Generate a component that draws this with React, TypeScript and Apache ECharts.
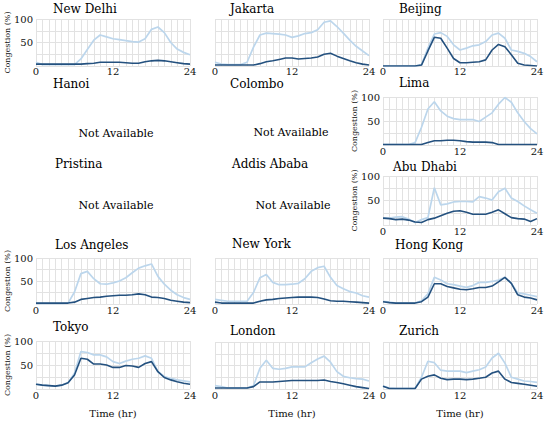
import React, { useEffect, useRef } from "react";
import * as echarts from "echarts";

const hours = [0, 1, 2, 3, 4, 5, 6, 7, 8, 9, 10, 11, 12, 13, 14, 15, 16, 17, 18, 19, 20, 21, 22, 23, 24];
const xTickLabels = [0, 12, 24];
const yTickLabels = [50, 100];

const newDelhiLight = [8, 3, 3, 3, 3, 3, 3, 15, 35, 55, 66, 62, 58, 56, 54, 52, 51, 58, 78, 83, 71, 50, 36, 29, 24];
const newDelhiDark = [4, 4, 4, 4, 4, 4, 4, 4, 5, 6, 8, 8, 8, 8, 7, 6, 6, 9, 11, 12, 11, 9, 7, 5, 4];
const jakartaLight = [8, 4, 3, 3, 3, 8, 40, 66, 70, 69, 68, 66, 61, 64, 69, 71, 77, 93, 96, 84, 70, 55, 42, 32, 22];
const jakartaDark = [2, 2, 2, 2, 2, 2, 2, 5, 9, 11, 14, 17, 17, 15, 16, 17, 19, 25, 27, 21, 16, 11, 7, 4, 2];
const beijingLight = [0, 0, 0, 0, 0, 0, 3, 38, 68, 71, 63, 45, 34, 38, 43, 45, 52, 66, 70, 59, 34, 31, 27, 20, 9];
const beijingDark = [0, 0, 0, 0, 0, 0, 2, 32, 61, 59, 38, 16, 7, 7, 8, 9, 13, 34, 46, 41, 24, 6, 2, 1, 0];
const limaLight = [1, 1, 1, 1, 1, 5, 37, 75, 90, 71, 60, 55, 53, 53, 53, 49, 58, 67, 85, 99, 89, 67, 49, 34, 23];
const limaDark = [1, 1, 1, 1, 1, 1, 1, 5, 9, 9, 10, 10, 9, 7, 6, 6, 6, 5, 1, 1, 1, 1, 1, 1, 1];
const abuDhabiLight = [14, 14, 16, 17, 12, 5, 11, 15, 76, 41, 43, 47, 48, 48, 47, 58, 55, 51, 68, 75, 55, 48, 39, 31, 24];
const abuDhabiDark = [14, 13, 11, 12, 10, 6, 5, 11, 14, 19, 24, 28, 29, 26, 22, 22, 22, 26, 31, 23, 15, 13, 12, 7, 13];
const losAngelesLight = [1, 1, 1, 1, 1, 2, 26, 66, 71, 55, 44, 43, 46, 50, 57, 68, 78, 83, 87, 60, 43, 30, 20, 14, 10];
const losAngelesDark = [2, 2, 2, 2, 2, 2, 4, 10, 12, 14, 15, 17, 18, 19, 19, 20, 22, 20, 15, 14, 12, 8, 6, 4, 3];
const newYorkLight = [10, 8, 6, 6, 6, 6, 25, 57, 64, 47, 42, 42, 43, 45, 55, 71, 79, 82, 58, 40, 33, 27, 24, 18, 15];
const newYorkDark = [4, 2, 2, 2, 2, 2, 2, 6, 9, 10, 12, 13, 14, 15, 15, 15, 14, 11, 7, 6, 6, 5, 4, 3, 2];
const hongKongLight = [6, 4, 2, 2, 2, 2, 7, 22, 58, 52, 44, 42, 39, 36, 40, 47, 47, 49, 52, 58, 45, 24, 22, 19, 16];
const hongKongDark = [5, 3, 2, 2, 2, 2, 5, 15, 44, 44, 38, 35, 32, 31, 33, 36, 36, 39, 48, 58, 45, 20, 15, 13, 9];
const tokyoLight = [10, 8, 7, 6, 8, 13, 33, 78, 76, 71, 71, 67, 57, 53, 58, 62, 64, 69, 64, 36, 26, 22, 19, 17, 15];
const tokyoDark = [10, 8, 7, 6, 8, 13, 29, 64, 62, 52, 52, 50, 45, 45, 49, 48, 45, 53, 57, 36, 24, 19, 15, 12, 10];
const londonLight = [7, 5, 2, 2, 2, 2, 7, 44, 61, 44, 42, 44, 47, 47, 47, 56, 64, 70, 57, 37, 27, 24, 22, 21, 17];
const londonDark = [2, 2, 2, 2, 2, 2, 5, 15, 15, 15, 16, 17, 18, 18, 18, 18, 18, 19, 16, 14, 11, 8, 5, 3, 1];
const zurichLight = [6, 2, 1, 1, 1, 1, 25, 59, 56, 40, 38, 38, 38, 35, 38, 41, 47, 66, 76, 55, 25, 21, 17, 16, 14];
const zurichDark = [6, 1, 1, 1, 1, 1, 21, 27, 30, 23, 20, 21, 21, 20, 21, 23, 25, 34, 38, 21, 14, 12, 10, 8, 6];

const NOT_AVAILABLE = "Not Available";
const Y_NAME = "Congestion (%)";
const X_NAME = "Time (hr)";

const LIGHT = "#bcd6ec";
const DARK = "#24517f";
const FONT = "DejaVu Serif";
const PW = 154;

// layout: plot rectangles, title anchors
const panels = [
  { name: "New Delhi", left: 36, top: 19, height: 47, tx: 53, ty: 8.5, yl: true, lm: 0, light: newDelhiLight, dark: newDelhiDark },
  { name: "Jakarta", left: 215, top: 19, height: 47, tx: 230, ty: 8.5, yl: false, lm: 0, light: jakartaLight, dark: jakartaDark },
  { name: "Beijing", left: 383, top: 19, height: 47, tx: 399, ty: 8.5, yl: false, lm: 0, light: beijingLight, dark: beijingDark },
  { name: "Hanoi", left: 36, tx: 53, ty: 84, na: [116, 133] },
  { name: "Colombo", left: 215, tx: 230, ty: 84, na: [291, 132] },
  { name: "Lima", left: 383, top: 97, height: 48, tx: 399, ty: 83, yl: true, lm: 1.5, light: limaLight, dark: limaDark },
  { name: "Pristina", left: 36, tx: 55, ty: 164, na: [116, 205] },
  { name: "Addis Ababa", left: 215, tx: 232, ty: 164, na: [293, 205] },
  { name: "Abu Dhabi", left: 383, top: 176, height: 49, tx: 393, ty: 167, yl: true, lm: 1.5, light: abuDhabiLight, dark: abuDhabiDark },
  { name: "Los Angeles", left: 36, top: 258, height: 46, tx: 55, ty: 245, yl: true, lm: 1.5, light: losAngelesLight, dark: losAngelesDark },
  { name: "New York", left: 215, top: 258, height: 46, tx: 232, ty: 244, yl: false, lm: 1.5, light: newYorkLight, dark: newYorkDark },
  { name: "Hong Kong", left: 383, top: 258, height: 46, tx: 395, ty: 245, yl: false, lm: 1.5, light: hongKongLight, dark: hongKongDark },
  { name: "Tokyo", left: 36, top: 341, height: 48, tx: 53, ty: 327, yl: true, lm: 1.5, xn: true, light: tokyoLight, dark: tokyoDark },
  { name: "London", left: 215, top: 342, height: 47, tx: 230, ty: 331, yl: false, lm: 1.5, xn: true, light: londonLight, dark: londonDark },
  { name: "Zurich", left: 383, top: 342, height: 47, tx: 399, ty: 331, yl: false, lm: 1.5, xn: true, light: zurichLight, dark: zurichDark },
];

export default function App() {
  const ref = useRef<HTMLDivElement>(null);
  useEffect(() => {
    if (!ref.current) return;
    const chart = echarts.init(ref.current, null, { renderer: "svg" });
    const charts = panels.filter((p) => p.light);
    const grids: any[] = [];
    const xAxes: any[] = [];
    const yAxes: any[] = [];
    const series: any[] = [];
    const graphics: any[] = [];
    charts.forEach((p: any, i: number) => {
      grids.push({ left: p.left, top: p.top, width: PW, height: p.height });
      xAxes.push({
        type: "value",
        gridIndex: i,
        min: 0,
        max: 24,
        interval: 1,
        axisLine: { show: false },
        axisTick: { show: false },
        axisLabel: {
          margin: p.lm,
          fontSize: 10,
          fontFamily: FONT,
          color: "#111",
          formatter: (v: number) => (xTickLabels.includes(v) ? String(v) : ""),
        },
        splitLine: { show: true, lineStyle: { color: "#e2e2e2", width: 1 } },
      });
      yAxes.push({
        type: "value",
        gridIndex: i,
        min: 0,
        max: 100,
        interval: 25,
        axisLine: { show: false },
        axisTick: { show: false },
        axisLabel: {
          show: !!p.yl,
          margin: 3,
          fontSize: 10,
          fontFamily: FONT,
          color: "#111",
          formatter: (v: number) => (yTickLabels.includes(v) ? String(v) : ""),
        },
        splitLine: { show: true, lineStyle: { color: "#e2e2e2", width: 1 } },
      });
      series.push({
        type: "line",
        xAxisIndex: i,
        yAxisIndex: i,
        data: hours.map((h, j) => [h, p.light[j]]),
        showSymbol: false,
        lineStyle: { color: LIGHT, width: 1.7 },
        z: 2,
      });
      series.push({
        type: "line",
        xAxisIndex: i,
        yAxisIndex: i,
        data: hours.map((h, j) => [h, p.dark[j]]),
        showSymbol: false,
        lineStyle: { color: DARK, width: 1.6 },
        z: 3,
      });
      if (p.yl) {
        graphics.push({
          type: "text",
          x: p.left - 28.5,
          y: p.top + p.height / 2,
          rotation: Math.PI / 2,
          style: {
            text: Y_NAME,
            fontSize: 8,
            fontFamily: FONT,
            fontWeight: "normal",
            fill: "#111",
            align: "center",
            verticalAlign: "middle",
          },
        });
      }
      if (p.xn) {
        graphics.push({
          type: "text",
          x: p.left + PW / 2,
          y: 413,
          style: {
            text: X_NAME,
            fontSize: 10,
            fontFamily: FONT,
            fontWeight: "normal",
            fill: "#111",
            align: "center",
            verticalAlign: "middle",
          },
        });
      }
    });
    panels.forEach((p: any) => {
      graphics.push({
        type: "text",
        x: p.tx,
        y: p.ty,
        style: {
          text: p.name,
          fontSize: 12,
          fontFamily: FONT,
          fontWeight: "normal",
          fill: "#000",
          align: "left",
          verticalAlign: "middle",
        },
      });
      if (p.na) {
        graphics.push({
          type: "text",
          x: p.na[0],
          y: p.na[1],
          style: {
            text: NOT_AVAILABLE,
            fontSize: 11,
            fontFamily: FONT,
            fontWeight: "normal",
            fill: "#000",
            align: "center",
            verticalAlign: "middle",
          },
        });
      }
    });
    chart.setOption({
      animation: false,
      backgroundColor: "#ffffff",
      grid: grids,
      xAxis: xAxes,
      yAxis: yAxes,
      series,
      graphic: graphics,
    });
    return () => chart.dispose();
  }, []);
  return (
    <div
      ref={ref}
      style={{ position: "fixed", left: 0, top: 0, width: 550, height: 421, background: "#fff" }}
    />
  );
}
